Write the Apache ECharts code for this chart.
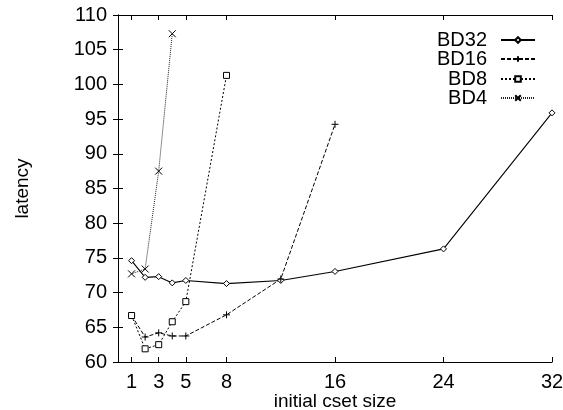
<!DOCTYPE html>
<html>
<head>
<meta charset="utf-8">
<script src="https://cdn.jsdelivr.net/npm/echarts@6/dist/echarts.min.js"></script>
<style>
  html, body { margin: 0; padding: 0; background: #fff; }
  #chart { width: 563px; height: 410px; }
</style>
</head>
<body>
<div id="chart"></div>
<script>
// 数据
const xTicks = [1, 3, 5, 8, 16, 24, 32];

const bd32X = [1, 2, 3, 4, 5, 8, 12, 16, 24, 32];
const bd32Y = [74.6, 72.2, 72.3, 71.4, 71.75, 71.3, 71.75, 73.05, 76.3, 95.9];

const bd16X = [1, 2, 3, 4, 5, 8, 12, 16];
const bd16Y = [66.7, 63.6, 64.2, 63.75, 63.75, 66.8, 71.95, 94.25];

const bd8X = [1, 2, 3, 4, 5, 8];
const bd8Y = [66.7, 61.9, 62.5, 65.8, 68.7, 101.3];

const bd4X = [1, 2, 3, 4];
const bd4Y = [72.7, 73.4, 87.5, 107.3];

const FONT = 'Liberation Sans';
// 符号
const diamondPath = 'path://M5,0L10,5L5,10L0,5Z';
const squarePath = 'path://M0,0L10,0L10,10L0,10Z';
const plusPath = 'path://M0,5L10,5M5,0L5,10';
const crossPath = 'path://M0,0L10,10M10,0L0,10';

const pairs = (xs, ys) => xs.map((x, i) => [x, ys[i]]);

// 系列
function makeSeries(name, xs, ys, symbol, size, dash, width, color) {
  return {
    name: name,
    type: 'line',
    data: pairs(xs, ys),
    symbol: symbol,
    symbolSize: size,
    showAllSymbol: true,
    animation: false,
    lineStyle: { color: color, width: width, type: dash },
    itemStyle: { color: '#fff', borderColor: '#000', borderWidth: 1 },
    emphasis: { disabled: true }
  };
}

const series = [
  makeSeries('BD32', bd32X, bd32Y, diamondPath, 6, 'solid', 1.1, '#000'),
  makeSeries('BD16', bd16X, bd16Y, plusPath, 7, [4, 2], 1, '#000'),
  makeSeries('BD8', bd8X, bd8Y, squarePath, 6, [2, 2], 1, '#000'),
  makeSeries('BD4', bd4X, bd4Y, crossPath, 7, [1, 1], 1, '#222')
];

// 图例：每项单独定位，右对齐
const legendTops = [25, 44, 64, 83];
const legends = ['BD32', 'BD16', 'BD8', 'BD4'].map((n, i) => ({
  data: [n],
  right: 22,
  top: legendTops[i],
  align: 'right',
  itemWidth: 34,
  itemHeight: 7,
  selectedMode: false,
  textStyle: { fontFamily: FONT, fontSize: 20, color: '#000', padding: [0, 9, 0, 0] }
}));

const axisLine = { show: true, lineStyle: { color: '#000', width: 1 } };

const option = {
  backgroundColor: '#fff',
  animation: false,
  grid: { left: 118, right: 11, top: 15, bottom: 48, outerBoundsMode: 'none' },
  legend: legends,
  xAxis: [
    {
      type: 'value', min: 0, max: 32, position: 'bottom',
      name: 'initial cset size', nameLocation: 'middle', nameGap: 30, nameMoveOverlap: false,
      nameTextStyle: { fontFamily: FONT, fontSize: 19, color: '#000' },
      axisLine: axisLine,
      axisTick: { show: true, inside: true, length: 5, customValues: xTicks, lineStyle: { color: '#000' } },
      axisLabel: { customValues: xTicks, fontFamily: FONT, fontSize: 20, color: '#000', margin: 10 },
      splitLine: { show: false }
    },
    {
      type: 'value', min: 0, max: 32, position: 'top',
      axisLine: axisLine,
      axisTick: { show: true, inside: true, length: 5, customValues: xTicks, lineStyle: { color: '#000' } },
      axisLabel: { show: false },
      splitLine: { show: false }
    }
  ],
  yAxis: [
    {
      type: 'value', min: 60, max: 110, interval: 5, position: 'left',
      name: 'latency', nameLocation: 'middle', nameGap: 86,
      nameTextStyle: { fontFamily: FONT, fontSize: 19, color: '#000' },
      axisLine: axisLine,
      axisTick: { show: true, inside: true, length: 5, lineStyle: { color: '#000' } },
      axisLabel: { fontFamily: FONT, fontSize: 20, color: '#000', margin: 11 },
      splitLine: { show: false }
    },
    {
      type: 'value', min: 60, max: 110, interval: 5, position: 'right',
      axisLine: axisLine,
      axisTick: { show: true, inside: true, length: 5, lineStyle: { color: '#000' } },
      axisLabel: { show: false },
      splitLine: { show: false }
    }
  ],
  series: series
};

const myChart = echarts.init(document.getElementById('chart'), null, { renderer: 'canvas' });
myChart.setOption(option);
</script>
</body>
</html>
